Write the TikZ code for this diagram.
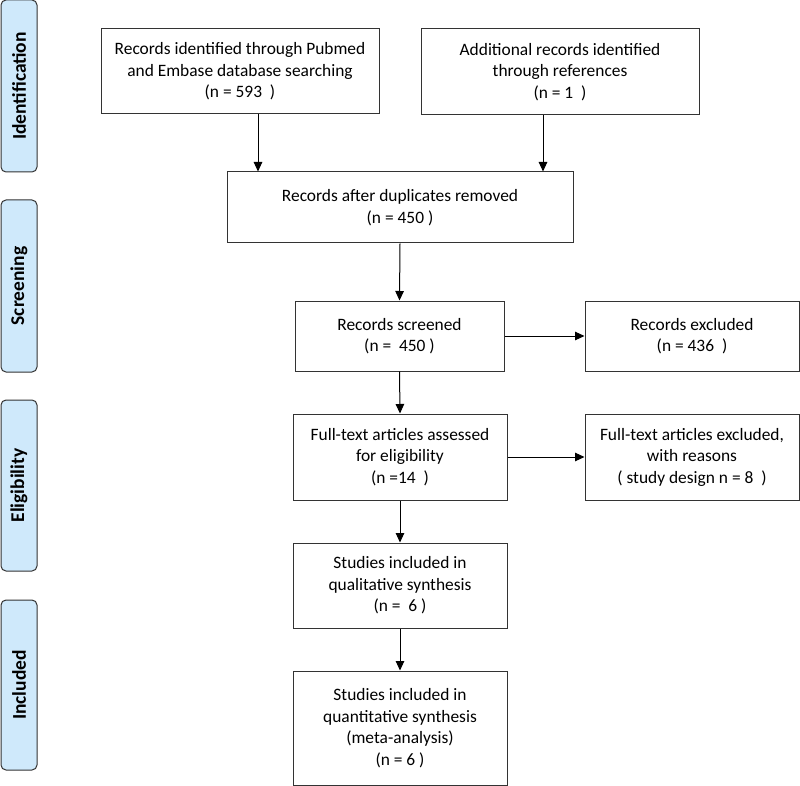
\documentclass[tikz,border=0pt]{standalone}
\usepackage{fontspec}
\setmainfont{Carlito}
\usetikzlibrary{arrows.meta}
\definecolor{phaseblue}{RGB}{207,233,251}

\begin{document}
\begin{tikzpicture}[x=1pt,y=-1pt,
    box/.style={draw=black!80, line width=1pt, align=center, inner sep=0pt,
      font=\fontsize{17.4}{21.5}\selectfont},
    phase/.style={draw=black!80, fill=phaseblue, line width=1pt, rounded corners=5pt,
      rotate=90, minimum height=36pt, inner sep=0pt, font=\bfseries\fontsize{19.5}{22}\selectfont},
    arr/.style={-{Triangle[length=9.5pt,width=8.5pt]}, line width=1pt}]
        \useasboundingbox (0,0) rectangle (800,786);
        % phases on the left
        \node[phase, minimum width=172pt] (id) at (19,86) {Identification};
        \node[phase, minimum width=172pt] (scr) at (19,286) {Screening};
        \node[phase, minimum width=171pt] (elig) at (19,485.5) {Eligibility};
        \node[phase, minimum width=170pt] (incl) at (19,685) {Included};
        % boxes
        \node[box, minimum width=278pt, minimum height=85pt] (A) at (240,71.5) {Records identified through Pubmed\\and Embase database searching\\(n = 593\ \ )};
        \node[box, minimum width=278pt, minimum height=86pt] (B) at (560,72) {Additional records identified\\through references\\(n = 1\ \ )};
        \node[box, minimum width=346pt, minimum height=71pt] (C) at (400,207.5) {Records after duplicates removed\\(n = 450 )};
        \node[box, minimum width=209pt, minimum height=70pt] (D) at (399.5,336) {Records screened\\(n =\ \ 450 )};
        \node[box, minimum width=214pt, minimum height=70pt] (E) at (692,336) {Records excluded\\(n = 436\ \ )};
        \node[box, minimum width=214pt, minimum height=86pt] (F) at (400,457) {Full-text articles assessed\\for eligibility\\(n =14\ \ )};
        \node[box, minimum width=214pt, minimum height=86pt] (G) at (692,457) {Full-text articles excluded,\\with reasons\\( study design n = 8\ \ )};
        \node[box, minimum width=214pt, minimum height=85pt] (H) at (400,585.5) {Studies included in\\qualitative synthesis\\(n =\ \ 6 )};
        \node[box, minimum width=214pt, minimum height=114pt] (I) at (400,728) {Studies included in\\quantitative synthesis\\(meta-analysis)\\(n = 6 )};
        % arrows
        \draw[arr] ([xshift=18pt]A.south) -- ([xshift=18pt]A.south |- C.north);
        \draw[arr] ([xshift=-17pt]B.south) -- ([xshift=-17pt]B.south |- C.north);
        \draw[arr] (C.south) -- (D.north);
        \draw[arr] (D.east) -- (E.west);
        \draw[arr] (D.south) -- (F.north);
        \draw[arr] (F.east) -- (G.west);
        \draw[arr] (F.south) -- (H.north);
        \draw[arr] (H.south) -- (I.north);
    \end{tikzpicture}
\end{document}
